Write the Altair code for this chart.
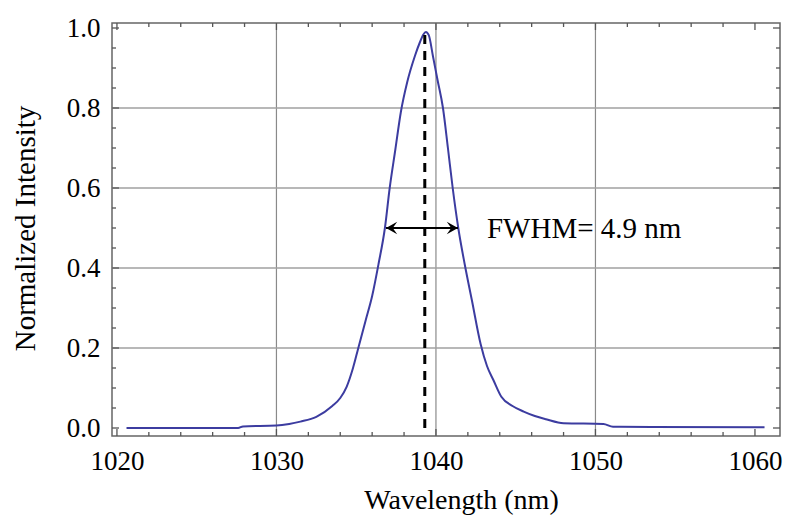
import altair as alt
import pandas as pd

# ---- data ----
wavelength = [1020.6, 1027.6, 1027.9, 1030.0, 1030.8, 1031.5, 1032.5, 1033.5, 1034.0,
              1034.4, 1034.8, 1035.1, 1035.6, 1036.0, 1036.4, 1036.8, 1037.1, 1037.45,
              1037.8, 1038.2, 1038.68, 1039.0, 1039.2, 1039.37, 1039.55, 1039.81, 1040.1,
              1040.44, 1040.75, 1041.05, 1041.4, 1041.8, 1042.25, 1042.8, 1043.2, 1043.6,
              1044.1, 1044.8, 1045.5, 1046.2, 1046.9, 1048.0, 1050.5, 1051.1, 1060.6]
intensity = [0.0, 0.0, 0.004, 0.006, 0.01, 0.016, 0.028, 0.055, 0.075,
             0.103, 0.15, 0.195, 0.27, 0.33, 0.41, 0.5, 0.6, 0.695,
             0.79, 0.865, 0.93, 0.965, 0.983, 0.99, 0.982, 0.93, 0.87,
             0.8, 0.7, 0.6, 0.5, 0.41, 0.32, 0.21, 0.155, 0.12,
             0.078, 0.055, 0.041, 0.03, 0.022, 0.012, 0.01, 0.003, 0.002]

peak_x = [1039.3, 1039.3]
peak_y = [0.0, 0.985]

arrow_x = [1036.87, 1041.38]
arrow_y = [0.5, 0.5]

label_text = ["FWHM= 4.9 nm"]
label_x = [1043.2]
label_y = [0.475]

x_tick_labels = [1020, 1030, 1040, 1050, 1060]
x_minor = [1022, 1024, 1026, 1028, 1032, 1034, 1036, 1038, 1042, 1044, 1046, 1048,
           1052, 1054, 1056, 1058]
y_tick_labels = [0.0, 0.2, 0.4, 0.6, 0.8, 1.0]
y_minor = [0.05, 0.1, 0.15, 0.25, 0.3, 0.35, 0.45, 0.5, 0.55, 0.65, 0.7, 0.75,
           0.85, 0.9, 0.95]
x_grid = [1030, 1040, 1050]
y_grid = [0.2, 0.4, 0.6, 0.8]

W, H = 668, 413
FONT = "Liberation Serif"

xs = alt.Scale(domain=[1019.69, 1061.57], nice=False, zero=False)
ys = alt.Scale(domain=[-0.02, 1.0125], nice=False, zero=False)

curve_df = pd.DataFrame({"x": wavelength, "y": intensity})
peak_df = pd.DataFrame({"x": peak_x, "y": peak_y})
arrow_df = pd.DataFrame({"x": arrow_x, "y": arrow_y})
text_df = pd.DataFrame({"x": label_x, "y": label_y, "t": label_text})

common_axis = dict(
    grid=False, ticks=False, domain=False,
    labelPadding=12, labelFontSize=27, labelFont=FONT, labelColor="black",
    labelFlush=False, labelOverlap=False,
    titleFont=FONT, titleFontWeight="normal", titleColor="black",
)
x_axis = alt.Axis(values=x_tick_labels, format="d", title="Wavelength (nm)",
                  titleFontSize=28,
                  titleX=349, titleY=64, titleBaseline="middle", titleAlign="center",
                  **common_axis)
y_axis = alt.Axis(values=y_tick_labels, format=".1f", title="Normalized Intensity",
                  titleFontSize=29,
                  titleX=-87, titleY=205, titleBaseline="middle", titleAlign="center",
                  titleAngle=270, **common_axis)

XA = alt.X("x:Q", scale=xs, axis=x_axis)
YA = alt.Y("y:Q", scale=ys, axis=y_axis)
X = alt.X("x:Q", scale=xs, axis=None)
Y = alt.Y("y:Q", scale=ys, axis=None)

curve = alt.Chart(curve_df).mark_line(color="#3c3ca0", strokeWidth=2, interpolate="monotone").encode(x=XA, y=YA)

gx = alt.Chart(pd.DataFrame({"x": x_grid})).mark_rule(color="#8a8a8a", strokeWidth=1.2).encode(x=X)
gy = alt.Chart(pd.DataFrame({"y": y_grid})).mark_rule(color="#a0a0a0", strokeWidth=1.5).encode(y=Y)

peak = alt.Chart(peak_df).mark_line(color="black", strokeWidth=3, strokeDash=[9, 7]).encode(x=X, y=Y)

arrow_line = alt.Chart(arrow_df).mark_line(color="black", strokeWidth=2).encode(x=X, y=Y)

head_left = alt.Chart(arrow_df.iloc[[0]]).mark_point(
    shape="M 0 0 L 1 -0.55 L 0.6 0 L 1 0.55 Z", filled=True, color="black", size=500, opacity=1
).encode(x=X, y=Y)
head_right = alt.Chart(arrow_df.iloc[[1]]).mark_point(
    shape="M 0 0 L -1 -0.55 L -0.6 0 L -1 0.55 Z", filled=True, color="black", size=500, opacity=1
).encode(x=X, y=Y)

label = alt.Chart(text_df).mark_text(
    font=FONT, fontSize=29, color="black", align="left", baseline="alphabetic"
).encode(x=X, y=Y, text="t:N")

tick_color = "#555"
def xticks(vals, length):
    d = pd.DataFrame({"x": vals})
    b = alt.Chart(d).mark_rule(color=tick_color, strokeWidth=1.3).encode(
        x=X, y=alt.value(H), y2=alt.value(H - length))
    t = alt.Chart(d).mark_rule(color=tick_color, strokeWidth=1.3).encode(
        x=X, y=alt.value(0), y2=alt.value(length))
    return [b, t]

def yticks(vals, length):
    d = pd.DataFrame({"y": vals})
    l = alt.Chart(d).mark_rule(color=tick_color, strokeWidth=1.3).encode(
        y=Y, x=alt.value(0), x2=alt.value(length))
    r = alt.Chart(d).mark_rule(color=tick_color, strokeWidth=1.3).encode(
        y=Y, x=alt.value(W), x2=alt.value(W - length))
    return [l, r]

ticks = xticks(x_tick_labels, 7) + xticks(x_minor, 4) + yticks(y_tick_labels, 7) + yticks(y_minor, 4)

chart = alt.layer(gx, gy, curve, peak, arrow_line, head_left, head_right, label, *ticks).resolve_axis(
    x="independent", y="independent"
).properties(
    width=W, height=H,
    autosize=alt.AutoSizeParams(type="none"),
    padding={"left": 104, "top": 15, "right": 12, "bottom": 80},
    background="white",
).configure_view(
    stroke="#666", strokeWidth=1.5
).configure_axis(**common_axis)

chart.save("out.html", embed_options={"renderer": "svg", "actions": False})
